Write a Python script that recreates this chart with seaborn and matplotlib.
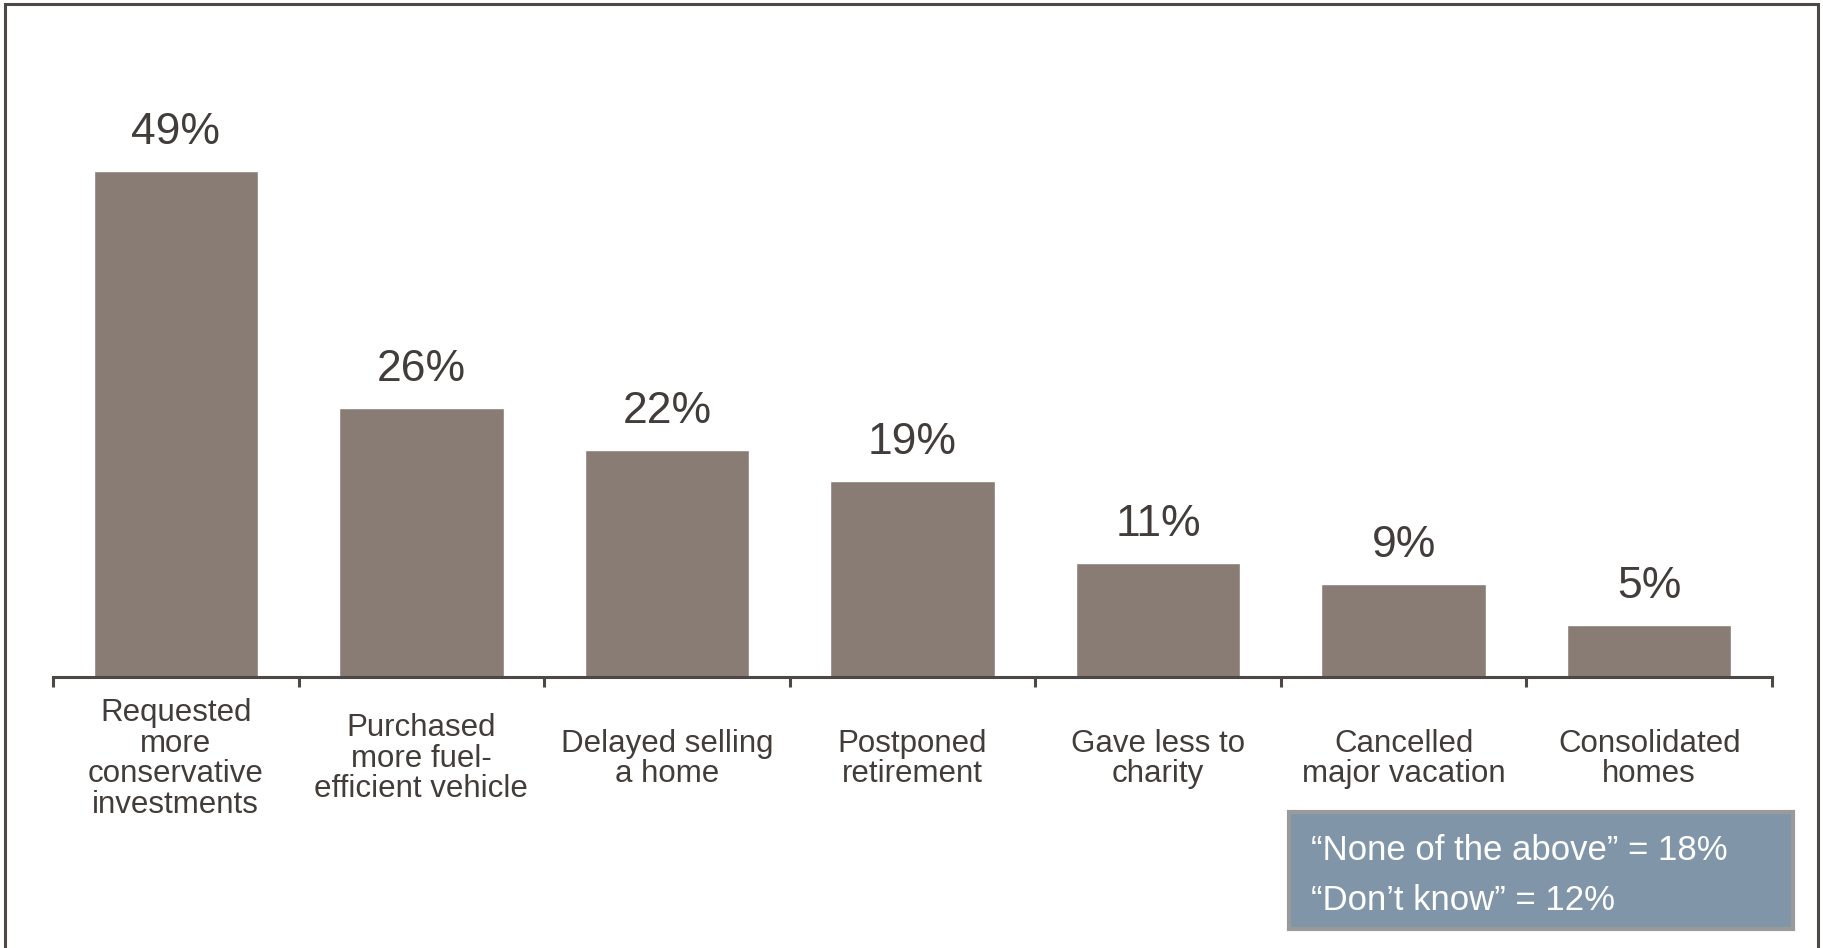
import matplotlib
matplotlib.use("Agg")
import matplotlib.pyplot as plt
from matplotlib.lines import Line2D
from matplotlib.patches import Rectangle
import seaborn as sns
import pandas as pd
import numpy as np

# Survey responses: actions taken
categories = [
    "Requested\nmore\nconservative\ninvestments",
    "Purchased\nmore fuel-\nefficient vehicle",
    "Delayed selling\na home",
    "Postponed\nretirement",
    "Gave less to\ncharity",
    "Cancelled\nmajor vacation",
    "Consolidated\nhomes",
]
values = [49, 26, 22, 19, 11, 9, 5]
value_labels = [f"{v}%" for v in values]
note_lines = ["\u201cNone of the above\u201d = 18%", "\u201cDon\u2019t know\u201d = 12%"]

sns.set_theme(style="white")
plt.rcParams["font.family"] = ["Liberation Sans", "DejaVu Sans"]

BAR = "#897c74"
TEXT = "#423d3a"
AXIS = "#4d4845"

W, H = 1824, 948
fig = plt.figure(figsize=(W / 100, H / 100), dpi=100)
fig.patch.set_facecolor("white")

ax_bottom = (H - 677) / H
ax_top_val = 55
ax_height = ax_top_val * 10.33 / H
ax = fig.add_axes([53 / W, ax_bottom, (1772 - 53) / W, ax_height])

df = pd.DataFrame({"category": categories, "value": values})
sns.barplot(data=df, x="category", y="value", color=BAR, saturation=1,
            width=0.67, ax=ax)

ax.set_xlim(-0.5, len(categories) - 0.5)
ax.set_ylim(0, ax_top_val)
ax.set_xlabel("")
ax.set_ylabel("")
ax.set_yticks([])

for s in ["top", "left", "right"]:
    ax.spines[s].set_visible(False)
ax.spines["bottom"].set_color(AXIS)
ax.spines["bottom"].set_linewidth(2.2)

# Category labels at bar centres, separators at category boundaries
ax.set_xticks(np.arange(len(categories)))
ax.set_xticklabels(categories, fontsize=22.5, color=TEXT, linespacing=1.02)
ax.tick_params(axis="x", which="major", length=0, pad=59)
for lbl in ax.get_xticklabels():
    lbl.set_verticalalignment("center")
ax.set_xticks(np.arange(len(categories) + 1) - 0.5, minor=True)
ax.tick_params(axis="x", which="minor", length=7.5, width=2.2, color=AXIS,
               bottom=True)

ax.bar_label(ax.containers[0], labels=value_labels, fontsize=32, color=TEXT,
             padding=13)

# Outer frame (open at the bottom)
frame = Line2D([5 / W, 5 / W, 1818 / W, 1818 / W],
               [0, 1 - 4 / H, 1 - 4 / H, 0],
               transform=fig.transFigure, color=AXIS, linewidth=2.2,
               solid_joinstyle="miter")
fig.add_artist(frame)

# Note box
bx0, bx1, by0, by1 = 1289, 1793, 812, 929
box = Rectangle((bx0 / W, 1 - by1 / H), (bx1 - bx0) / W, (by1 - by0) / H,
                transform=fig.transFigure, facecolor="#8096a8",
                edgecolor="#9a9a9a", linewidth=3)
fig.add_artist(box)
fig.text(1311 / W, 1 - 850 / H, note_lines[0], fontsize=25, color="white",
         va="center", ha="left")
fig.text(1311 / W, 1 - 900 / H, note_lines[1], fontsize=25, color="white",
         va="center", ha="left")

fig.savefig("out.png", dpi=100, facecolor="white")
